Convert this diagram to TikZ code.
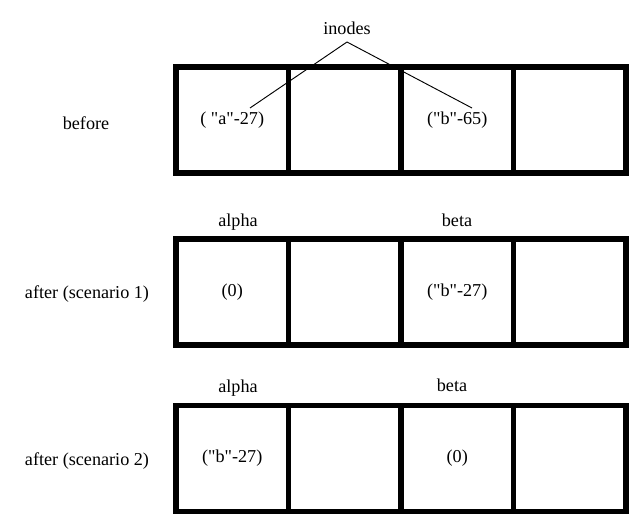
\documentclass[tikz,border=0pt]{standalone}
\usepackage{fontspec}
\setmainfont{Liberation Serif}[Ligatures=TeXOff]
\usepackage{tikz}
\usetikzlibrary{calc}

\begin{document}
\begin{tikzpicture}[x=0.03cm, y=-0.03cm,
    every node/.style={font=\fontsize{15.5pt}{18pt}\selectfont},
    cell/.style={draw, line width=5.1pt, minimum width=3.375cm, minimum height=3.18cm, inner sep=0pt},
    pointer/.style={line width=0.8pt}]
    \useasboundingbox (0,0) rectangle (642,532);
    % the three rows of four blocks
    \foreach \row/\y/\ta/\tc in {bef/120/{( "a"-27)}/{("b"-65)}, one/292/{(0)}/{("b"-27)}, two/458.5/{("b"-27)}/{(0)}} {
        \node[cell] (\row1) at (232.25,\y) {\ta};
        \node[cell] (\row2) at (344.75,\y) {};
        \node[cell] (\row3) at (457.25,\y) {\tc};
        \node[cell] (\row4) at (569.75,\y) {};
    }
    \node (before) at (86,123) {before};
    \node (after1) at (87,294) {after (scenario 1)};
    \node (after2) at (87,461) {after (scenario 2)};
    \node (alpha1) at (238,222) {alpha};
    \node (beta1) at (457,220) {beta};
    \node (alpha2) at (238,388) {alpha};
    \node (beta2) at (452,385) {beta};
    \node[anchor=south, inner sep=6pt] (inodes) at (347,42) {inodes};
    \coordinate (aend) at (250,108);
    \coordinate (bend) at (472,108);
    \draw[pointer] (inodes.south) -- (aend);
    \draw[pointer] (inodes.south) -- (bend);
\end{tikzpicture}
\end{document}
